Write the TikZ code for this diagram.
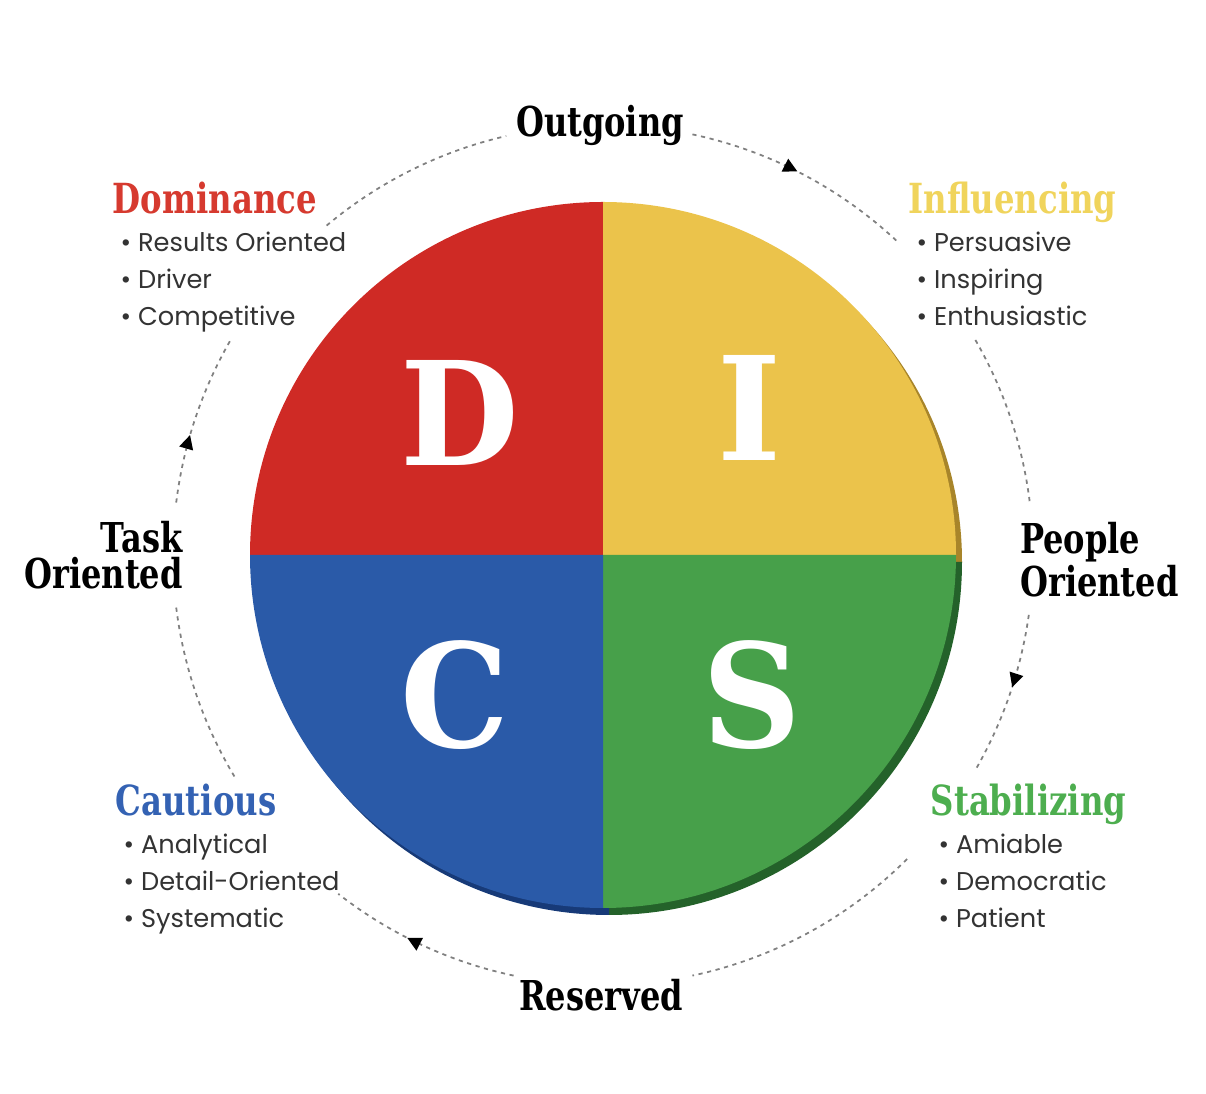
\documentclass[tikz,border=0pt]{standalone}
\usepackage{fontspec}
\setmainfont{Poppins}
\newfontfamily\slabfont{DejaVu Serif}[FakeStretch=0.78]
\newfontfamily\letterfont{DejaVu Serif}[FakeStretch=0.95]
\usetikzlibrary{arrows.meta, positioning, calc, decorations.markings}

\definecolor{dred}{HTML}{CF2A25}
\definecolor{dyellow}{HTML}{EBC34B}
\definecolor{dgreen}{HTML}{47A04A}
\definecolor{dblue}{HTML}{2A5AA8}
\definecolor{dredshade}{HTML}{8E1A16}
\definecolor{dyellowshade}{HTML}{A8852A}
\definecolor{dgreenshade}{HTML}{24622A}
\definecolor{dblueshade}{HTML}{173A78}
\definecolor{tred}{HTML}{D63A2F}
\definecolor{tyellow}{HTML}{F0D45C}
\definecolor{tgreen}{HTML}{4DAE4F}
\definecolor{tblue}{HTML}{3462B3}

\begin{document}
\begin{tikzpicture}[
    letter/.style={text=white, font=\letterfont\bfseries\fontsize{41}{41}\selectfont},
    axislabel/.style={align=center, font=\slabfont\bfseries\fontsize{11.7}{10.2}\selectfont, inner sep=1pt},
    quadtitle/.style={anchor=west, font=\slabfont\bfseries\fontsize{11.8}{12}\selectfont, inner sep=0pt, text height=0.3cm, text depth=0.08cm},
    items/.style={align=left, text=black!80, font=\fontsize{7.3}{10.5}\selectfont, inner sep=0pt},
    ring/.style={black!50, line width=0.5pt, dash pattern=on 1.2pt off 1.3pt},
    tipmark/.style={postaction={decorate}, decoration={markings, mark=at position #1 with {\arrow{Triangle[length=1.4mm, width=1.4mm, black]}}}}
  ]
  \useasboundingbox (0,0) rectangle (12.06,10.94);

  % --- CERCHIO DISC ---
  \coordinate (c) at (6.03,5.39);

  % bordo scuro (effetto 3D)
  \foreach \s/\e/\col in {180/90/dredshade, 90/0/dyellowshade, 0/-90/dgreenshade, -90/-180/dblueshade}
    \fill[\col] ([shift={(0.06,-0.07)}]c) -- ++(\s:3.53) arc[start angle=\s, end angle=\e, radius=3.53] -- cycle;

  % quadranti
  \foreach \s/\e/\col in {180/90/dred, 90/0/dyellow, 0/-90/dgreen, -90/-180/dblue}
    \fill[\col] (c) -- ++(\s:3.53) arc[start angle=\s, end angle=\e, radius=3.53] -- cycle;

  % lettere
  \node (d) [letter] at ($(c)+(-1.43,1.42)$) {D};
  \node (i) [letter] at ($(c)+(1.47,1.47)$) {I};
  \node (cc) [letter] at ($(c)+(-1.48,-1.40)$) {C};
  \node (s) [letter] at ($(c)+(1.49,-1.40)$) {S};

  % --- ETICHETTE ASSI ---
  \node (out) [axislabel] at (6.00,9.69) {Outgoing};
  \node (res) [axislabel] at (6.01,0.99) {Reserved};
  \node (task) [axislabel, anchor=east, align=right] at (1.87,5.39) {Task\\Oriented};
  \node (people) [axislabel, anchor=west, align=left] at (10.16,5.34) {People\\Oriented};

  % --- STILI ---
  \node (dom) [quadtitle, text=tred] at (1.12,8.91) {Dominance};
  \node (domlist) [items, below=0.09cm of dom.south west, anchor=north west, xshift=0.08cm] {\textbullet\ Results Oriented\\\textbullet\ Driver\\\textbullet\ Competitive};

  \node (inf) [quadtitle, text=tyellow] at (9.08,8.91) {Influencing};
  \node (inflist) [items, below=0.09cm of inf.south west, anchor=north west, xshift=0.08cm] {\textbullet\ Persuasive\\\textbullet\ Inspiring\\\textbullet\ Enthusiastic};

  \node (cau) [quadtitle, text=tblue] at (1.15,2.89) {Cautious};
  \node (caulist) [items, below=0.09cm of cau.south west, anchor=north west, xshift=0.08cm] {\textbullet\ Analytical\\\textbullet\ Detail-Oriented\\\textbullet\ Systematic};

  \node (sta) [quadtitle, text=tgreen] at (9.30,2.89) {Stabilizing};
  \node (stalist) [items, below=0.09cm of sta.south west, anchor=north west, xshift=0.08cm] {\textbullet\ Amiable\\\textbullet\ Democratic\\\textbullet\ Patient};

  % --- ANELLO TRATTEGGIATO ---
  \foreach \from/\to/\pos in {78/47/0.48, -8/-30/0.45, -102/-128/0.58, 173/150/0.4}
    \draw[ring, tipmark=\pos] (c) ++(\from:4.3) arc[start angle=\from, end angle=\to, radius=4.3];
  \foreach \from/\to in {30/7, -45/-78, -149/-173, 130/103}
    \draw[ring] (c) ++(\from:4.3) arc[start angle=\from, end angle=\to, radius=4.3];
\end{tikzpicture}
\end{document}
